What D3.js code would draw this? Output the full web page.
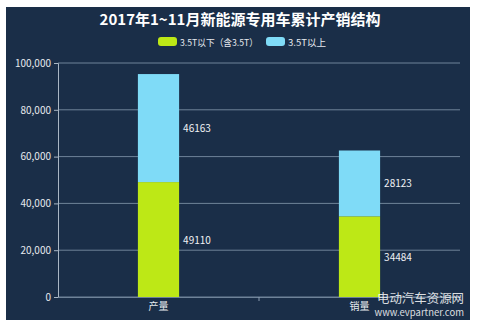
<!DOCTYPE html>
<html><head><meta charset="utf-8">
<script src="https://cdn.jsdelivr.net/npm/d3@7/dist/d3.min.js"></script>
<style>
html,body{margin:0;padding:0;background:#fff;}
svg{display:block;}
text{font-family:"Microsoft YaHei","Noto Sans CJK SC","Noto Sans",sans-serif;}
</style></head>
<body>
<svg id="c" width="480" height="328"></svg>
<script>
const title = "2017年1~11月新能源专用车累计产销结构";
const categories = ["产量", "销量"];
const seriesNames = ["3.5T以下（含3.5T）", "3.5T以上"];
const below35 = [49110, 34484];
const above35 = [46163, 28123];
const yTicks = [0, 20000, 40000, 60000, 80000, 100000];
const colors = ["#bde816", "#7fdbf7"];

const svg = d3.select("#c");
svg.append("rect").attr("x",6).attr("y",7).attr("width",464).attr("height",313).attr("fill","#1a2e48");

const x = d3.scaleBand().domain(categories).range([58,460]);
const y = d3.scaleLinear().domain([0,100000]).range([297,63]);

// gridlines
svg.append("g").selectAll("line").data(yTicks).join("line")
  .attr("x1",58).attr("x2",460).attr("y1",d=>y(d)).attr("y2",d=>y(d))
  .attr("stroke","#6f8399").attr("stroke-width",1);

// y axis
const ya = svg.append("g").attr("transform","translate(58,0)")
  .call(d3.axisLeft(y).tickValues(yTicks).tickFormat(d3.format(",")).tickSize(4).tickPadding(3));
ya.select(".domain").attr("stroke","#a9b6c4");
ya.selectAll(".tick line").attr("stroke","#a9b6c4");
ya.selectAll("text").attr("fill","#e6e9ee").attr("font-size",10).attr("font-family","Arial,'Liberation Sans',sans-serif");

// x axis
const xa = svg.append("g").attr("transform","translate(0,297)")
  .call(d3.axisBottom(x).tickSize(0).tickPadding(6));
xa.select(".domain").attr("stroke","#6f8399");
xa.selectAll("text").attr("fill","#e6e9ee").attr("font-size",10);
svg.append("line").attr("x1",x(categories[1])).attr("x2",x(categories[1])).attr("y1",297).attr("y2",301).attr("stroke","#8a9bb0");

// stacked bars
const stackData = categories.map((c,i)=>({cat:c, a:below35[i], b:above35[i]}));
const stacked = d3.stack().keys(["a","b"])(stackData);
const bw = x.bandwidth()*0.205;
stacked.forEach((s,k)=>{
  const g = svg.append("g");
  g.selectAll("rect").data(s).join("rect")
    .attr("x",d=>x(d.data.cat)+x.bandwidth()/2-bw/2)
    .attr("width",bw)
    .attr("y",d=>y(d[1]))
    .attr("height",d=>y(d[0])-y(d[1]))
    .attr("fill",colors[k]);
  g.selectAll("text").data(s).join("text")
    .attr("x",d=>x(d.data.cat)+x.bandwidth()/2+bw/2+4)
    .attr("y",d=>y((d[0]+d[1])/2)+4)
    .attr("fill","#f0f2f5").attr("font-size",10)
    .attr("font-family","Arial,'Liberation Sans',sans-serif")
    .text(d=>d[1]-d[0]);
});

// title
svg.append("text").attr("x",240).attr("y",25).attr("text-anchor","middle")
  .attr("fill","#fff").attr("font-size",15).attr("font-weight","bold").text(title);

// legend
const leg = [{x:158,t:seriesNames[0],c:colors[0],w:78},{x:266,t:seriesNames[1],c:colors[1],w:38}];
leg.forEach(l=>{
  svg.append("rect").attr("x",l.x).attr("y",37).attr("width",19).attr("height",9).attr("rx",3).attr("fill",l.c);
  svg.append("text").attr("x",l.x+22).attr("y",45.5).attr("fill","#e6e9ee").attr("font-size",9.5)
    .attr("textLength",l.w).attr("lengthAdjust","spacingAndGlyphs").text(l.t);
});

// watermark
svg.append("text").attr("x",464).attr("y",303).attr("text-anchor","end").attr("fill","#fff").attr("fill-opacity",0.85)
  .attr("font-size",12).attr("textLength",87).attr("lengthAdjust","spacingAndGlyphs").text("电动汽车资源网");
svg.append("text").attr("x",464).attr("y",316).attr("text-anchor","end").attr("fill","#fff").attr("fill-opacity",0.85)
  .attr("font-size",9.5).attr("font-family","Arial,'Liberation Sans',sans-serif").text("www.evpartner.com");
</script>
</body></html>
